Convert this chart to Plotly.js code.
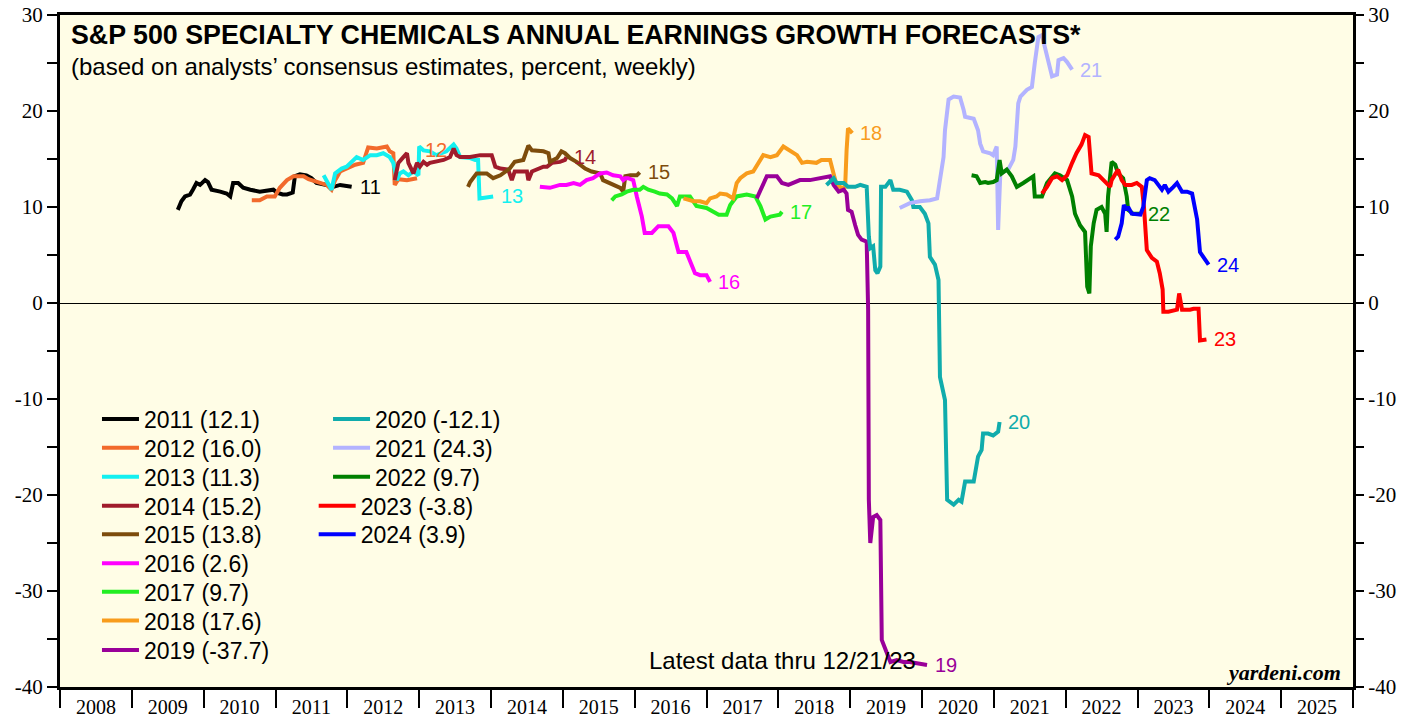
<!DOCTYPE html>
<html><head><meta charset="utf-8">
<script src="https://cdn.plot.ly/plotly-3.0.1.min.js"></script>
<style>html,body{margin:0;padding:0;background:#fff;}#chart{width:1419px;height:717px;}</style>
</head><body><div id="chart"></div>
<script>
// ---------- DATA ----------
const yearLabels = ['2008','2009','2010','2011','2012','2013','2014','2015','2016','2017','2018','2019','2020','2021','2022','2023','2024','2025'];
const yearBounds = [2008,2009,2010,2011,2012,2013,2014,2015,2016,2017,2018,2019,2020,2021,2022,2023,2024,2025,2026];
const yTickVals = [-40,-30,-20,-10,0,10,20,30];
const yTickText = ['-40','-30','-20','-10','0','10','20','30'];

const seriesYears = ['2011','2012','2013','2014','2015','2016','2017','2018','2019','2020','2021','2022','2023','2024'];
const finalValues = [12.1,16.0,11.3,15.2,13.8,2.6,9.7,17.6,-37.7,-12.1,24.3,9.7,-3.8,3.9];

const x2011 = [2009.64,2009.69,2009.74,2009.81,2009.85,2009.90,2009.95,2010.02,2010.06,2010.11,2010.23,2010.32,2010.37,2010.41,2010.48,2010.55,2010.65,2010.78,2010.97,2011.02,2011.10,2011.16,2011.24,2011.27,2011.34,2011.43,2011.50,2011.57,2011.71,2011.80,2011.90,2012.06];
const y2011 = [9.7,10.6,11.1,11.3,11.8,12.5,12.3,12.8,12.6,11.8,11.6,11.4,11.1,12.5,12.5,12.0,11.8,11.6,11.8,11.5,11.3,11.3,11.5,13.2,13.4,13.3,13.0,12.5,12.3,12.1,12.3,12.1];

const x2012 = [2010.67,2010.78,2010.88,2010.99,2011.06,2011.16,2011.25,2011.39,2011.46,2011.57,2011.71,2011.78,2011.83,2011.90,2011.99,2012.11,2012.22,2012.27,2012.29,2012.41,2012.55,2012.59,2012.64,2012.66,2012.71,2012.83,2012.97];
const y2012 = [10.7,10.7,11.1,11.1,12.0,12.8,13.2,13.2,12.9,12.6,12.3,11.8,12.8,13.7,14.0,14.4,14.6,15.6,16.2,16.1,16.3,15.8,15.6,12.3,12.9,12.8,13.0];

const x2013 = [2011.67,2011.78,2011.83,2011.92,2011.99,2012.06,2012.13,2012.22,2012.32,2012.41,2012.50,2012.59,2012.64,2012.69,2012.73,2012.78,2012.85,2012.92,2012.99,2013.00,2013.06,2013.15,2013.24,2013.38,2013.48,2013.52,2013.57,2013.71,2013.78,2013.82,2013.84,2014.03];
const y2013 = [13.3,11.8,13.5,14.0,14.2,14.7,15.2,14.9,15.4,15.4,15.6,15.2,14.6,12.8,13.5,13.7,13.3,13.7,13.3,16.3,15.9,15.8,15.4,15.8,16.5,16.1,15.2,15.1,14.9,14.9,10.9,11.1];

const x2014 = [2012.66,2012.71,2012.78,2012.83,2012.85,2012.92,2012.97,2013.01,2013.06,2013.11,2013.15,2013.24,2013.34,2013.43,2013.48,2013.52,2013.57,2013.71,2013.85,2014.01,2014.06,2014.13,2014.24,2014.29,2014.33,2014.50,2014.52,2014.57,2014.73,2014.78,2014.85,2014.96,2015.03,2015.05];
const y2014 = [12.8,14.6,15.2,15.6,14.6,13.5,14.6,14.2,14.7,14.4,14.6,14.7,14.9,15.2,16.1,15.4,15.2,15.2,15.4,15.4,14.2,14.0,13.9,12.8,13.7,13.7,12.8,13.7,14.2,14.2,14.6,14.7,14.9,15.2];

const x2015 = [2013.68,2013.71,2013.80,2013.94,2014.03,2014.13,2014.26,2014.33,2014.45,2014.50,2014.52,2014.57,2014.73,2014.80,2014.82,2014.92,2014.98,2015.03,2015.10,2015.19,2015.31,2015.40,2015.52,2015.56,2015.70,2015.80,2015.84,2015.87,2015.94,2016.03,2016.07];
const y2015 = [12.1,12.6,13.5,13.5,13.0,13.3,14.0,14.7,14.9,15.8,16.4,15.9,15.8,15.6,14.7,15.1,15.8,15.6,15.1,14.7,14.0,13.7,13.5,12.8,12.3,12.0,11.6,13.2,13.3,13.3,13.6];

const x2016 = [2014.68,2014.82,2014.96,2015.05,2015.15,2015.24,2015.33,2015.42,2015.52,2015.61,2015.70,2015.80,2015.84,2015.87,2015.91,2015.98,2016.03,2016.10,2016.14,2016.24,2016.33,2016.47,2016.54,2016.61,2016.72,2016.77,2016.84,2016.91,2017.00,2017.05];
const y2016 = [12.1,12.0,12.3,12.3,12.5,12.3,12.8,13.0,13.5,13.6,13.3,13.2,12.8,13.0,13.0,12.8,11.1,9.0,7.3,7.3,8.0,8.0,7.3,5.3,5.3,4.3,3.1,2.9,2.9,2.2];

const x2017 = [2015.68,2015.73,2015.82,2015.89,2015.98,2016.07,2016.12,2016.19,2016.28,2016.35,2016.45,2016.52,2016.59,2016.63,2016.77,2016.86,2017.00,2017.10,2017.17,2017.28,2017.33,2017.42,2017.56,2017.68,2017.75,2017.82,2017.89,2018.02,2018.05];
const y2017 = [10.7,11.1,11.3,11.6,11.8,11.8,12.1,11.8,11.6,11.4,11.3,10.9,10.1,11.1,11.1,10.1,9.9,9.5,9.2,9.2,10.2,11.1,11.3,11.1,10.1,8.7,9.0,9.2,9.5];

const x2018 = [2016.68,2016.82,2016.91,2017.00,2017.05,2017.14,2017.19,2017.28,2017.37,2017.42,2017.47,2017.56,2017.65,2017.72,2017.79,2017.89,2017.98,2018.07,2018.16,2018.26,2018.33,2018.40,2018.53,2018.60,2018.72,2018.77,2018.81,2018.88,2018.93,2018.95,2018.97,2019.03];
const y2018 = [10.9,10.6,10.6,10.4,10.9,11.1,11.4,11.3,10.9,12.5,13.0,13.5,13.7,14.6,15.4,15.2,15.4,16.3,15.9,15.4,14.6,14.7,14.6,14.9,14.9,13.2,12.3,12.0,12.1,15.9,18.2,17.7];

const x2019 = [2017.70,2017.77,2017.84,2017.98,2018.05,2018.14,2018.21,2018.30,2018.44,2018.58,2018.72,2018.77,2018.84,2018.91,2018.95,2018.97,2019.02,2019.07,2019.11,2019.16,2019.23,2019.25,2019.26,2019.28,2019.32,2019.37,2019.42,2019.44,2019.51,2019.56,2019.65,2019.74,2019.83,2019.93,2020.07];
const y2019 = [10.9,12.0,13.2,13.2,12.5,12.3,12.5,12.8,12.8,13.0,13.2,12.3,11.6,11.8,11.4,9.7,9.5,8.1,7.1,6.6,6.4,-0.7,-20.5,-25.0,-22.3,-22.1,-22.6,-35.1,-36.5,-37.4,-37.2,-37.4,-37.4,-37.5,-37.7];

const x2020 = [2018.67,2018.77,2018.81,2018.91,2018.97,2019.07,2019.14,2019.23,2019.26,2019.28,2019.32,2019.35,2019.38,2019.42,2019.43,2019.49,2019.56,2019.60,2019.69,2019.79,2019.86,2019.88,2019.97,2020.04,2020.09,2020.11,2020.18,2020.23,2020.25,2020.32,2020.35,2020.44,2020.51,2020.55,2020.60,2020.72,2020.78,2020.83,2020.85,2020.92,2020.99,2021.06,2021.08];
const y2020 = [12.3,13.0,12.5,12.5,12.1,12.1,12.3,12.1,6.9,5.7,5.9,3.4,3.1,3.8,12.1,12.1,12.8,11.8,11.8,11.6,10.7,10.0,10.0,9.3,8.3,4.8,4.0,2.4,-7.7,-10.1,-20.5,-21.0,-20.5,-20.7,-18.6,-18.6,-16.0,-15.3,-13.6,-13.6,-13.8,-13.4,-12.4];

const x2021 = [2019.69,2019.83,2019.97,2020.11,2020.21,2020.25,2020.30,2020.32,2020.37,2020.44,2020.53,2020.58,2020.60,2020.72,2020.78,2020.81,2020.85,2020.95,2020.99,2021.04,2021.06,2021.09,2021.20,2021.27,2021.30,2021.34,2021.37,2021.46,2021.53,2021.57,2021.62,2021.67,2021.74,2021.81,2021.88,2021.90,2021.97,2022.02,2022.09];
const y2021 = [9.9,10.4,10.6,10.7,10.9,12.8,15.2,18.0,21.2,21.5,21.4,20.1,19.4,19.2,18.0,16.6,15.8,15.6,15.4,16.3,7.6,13.5,13.9,14.9,16.3,20.8,21.5,22.2,22.5,25.0,27.7,27.9,25.7,23.6,23.8,25.3,25.5,25.1,24.3];

const x2022 = [2020.69,2020.76,2020.81,2020.88,2020.92,2020.99,2021.04,2021.08,2021.11,2021.18,2021.25,2021.32,2021.41,2021.55,2021.57,2021.67,2021.74,2021.85,2021.92,2022.02,2022.09,2022.13,2022.20,2022.27,2022.30,2022.33,2022.35,2022.39,2022.43,2022.50,2022.55,2022.57,2022.59,2022.64,2022.69,2022.73,2022.80,2022.85,2022.87,2022.94,2023.04];
const y2022 = [13.3,13.2,12.5,12.6,12.5,12.6,12.8,14.9,13.5,13.9,13.2,12.1,12.5,13.2,11.1,11.1,12.5,13.5,13.3,12.8,11.1,9.3,8.1,7.4,1.7,1.0,5.9,8.3,9.7,10.0,9.3,7.4,11.1,14.7,14.4,13.5,13.0,11.1,9.7,9.3,9.3];

const x2023 = [2021.67,2021.74,2021.81,2021.88,2021.95,2022.02,2022.09,2022.15,2022.22,2022.27,2022.32,2022.36,2022.46,2022.53,2022.57,2022.62,2022.64,2022.69,2022.73,2022.78,2022.83,2022.92,2022.99,2023.06,2023.09,2023.13,2023.20,2023.27,2023.31,2023.35,2023.36,2023.43,2023.55,2023.58,2023.62,2023.73,2023.78,2023.85,2023.87,2023.96];
const y2023 = [11.4,12.1,13.0,13.2,12.8,13.3,14.6,15.6,16.5,17.5,17.3,13.5,13.3,12.8,12.6,12.1,12.8,13.5,13.9,12.8,12.3,12.3,12.5,12.1,10.0,5.5,4.7,4.3,3.1,1.4,-0.9,-0.9,-0.7,1.0,-0.7,-0.7,-0.6,-0.6,-3.9,-3.8];

const x2024 = [2022.69,2022.73,2022.78,2022.81,2022.85,2022.87,2022.92,2023.04,2023.08,2023.13,2023.17,2023.24,2023.29,2023.34,2023.38,2023.43,2023.50,2023.55,2023.62,2023.69,2023.76,2023.83,2023.87,2023.92,2023.99];
const y2024 = [6.6,6.9,8.3,10.2,9.7,10.0,9.3,9.2,10.0,12.8,13.0,12.8,12.3,11.8,12.3,11.6,12.1,12.5,11.6,11.6,11.4,8.7,5.3,4.8,4.0];

// ---------- STYLE ----------
const seriesX = [x2011,x2012,x2013,x2014,x2015,x2016,x2017,x2018,x2019,x2020,x2021,x2022,x2023,x2024];
const seriesY = [y2011,y2012,y2013,y2014,y2015,y2016,y2017,y2018,y2019,y2020,y2021,y2022,y2023,y2024];
const colors = ['#000000','#f26a2c','#14f0f0','#a01c2c','#7d4c0c','#ff00ff','#22ee22','#f89c1c','#990099','#10acac','#b3b3ff','#008000','#ff0000','#0000ff'];
const labelYShift = {'2012': 28};

// legend placement (paper coords): one small legend per entry
const legendX = [0.0286,0.0286,0.0286,0.0286,0.0286,0.0286,0.0286,0.0286,0.0286,0.2073,0.2073,0.2073,0.1962,0.1962];
const legendY = [0.3988,0.3561,0.3129,0.2698,0.2272,0.1841,0.1418,0.0987,0.0551,0.3988,0.3561,0.3129,0.2698,0.2272];

const SANS = 'Liberation Sans, Arial, sans-serif';
const SERIF = 'Liberation Serif, Times New Roman, serif';

const traces = seriesX.map((xs, i) => ({
  type: 'scatter', mode: 'lines', x: xs, y: seriesY[i],
  name: seriesYears[i] + ' (' + finalValues[i].toFixed(1) + ')',
  line: {color: colors[i], width: 4},
  legend: i === 0 ? 'legend' : 'legend' + (i + 1),
  hoverinfo: 'skip'
}));
traces.push({type: 'scatter', mode: 'lines', x: [], y: [], yaxis: 'y2', showlegend: false, hoverinfo: 'skip'});

const layout = {
  width: 1419, height: 717,
  margin: {l: 60, r: 66, t: 15, b: 30},
  paper_bgcolor: '#ffffff',
  plot_bgcolor: '#fffde6',
  font: {family: SANS, color: '#000'},
  showlegend: true,
  xaxis: {
    range: [2008, 2026],
    tickmode: 'array',
    tickvals: yearBounds.slice(0, -1).map(b => b + 0.5),
    ticktext: yearLabels,
    ticks: 'outside', ticklen: 0, tickcolor: 'rgba(0,0,0,0)',
    tickfont: {family: SERIF, size: 20, color: '#000'},
    showline: true, linewidth: 3, linecolor: '#000', mirror: true,
    showgrid: false, zeroline: false, fixedrange: true,
    minor: {tickmode: 'array', tickvals: yearBounds, ticks: 'outside', ticklen: 18, tickwidth: 2, tickcolor: '#000', showgrid: false}
  },
  yaxis: {
    range: [-40, 30],
    tickmode: 'array', tickvals: yTickVals, ticktext: yTickText,
    ticks: 'outside', ticklen: 10, tickwidth: 2, tickcolor: '#000',
    tickfont: {family: SERIF, size: 21, color: '#000'},
    showline: true, linewidth: 3, linecolor: '#000', mirror: true,
    showgrid: false, zeroline: true, zerolinecolor: '#000', zerolinewidth: 1, fixedrange: true,
    minor: {dtick: 5, tick0: 0, ticks: 'outside', ticklen: 10, tickwidth: 2, tickcolor: '#000', showgrid: false}
  },
  yaxis2: {
    overlaying: 'y', side: 'right', range: [-40, 30],
    tickmode: 'array', tickvals: yTickVals, ticktext: yTickText,
    ticks: 'outside', ticklen: 10, tickwidth: 2, tickcolor: '#000',
    tickfont: {family: SERIF, size: 21, color: '#000'},
    showline: false, showgrid: false, zeroline: false, fixedrange: true,
    minor: {dtick: 5, tick0: 0, ticks: 'outside', ticklen: 10, tickwidth: 2, tickcolor: '#000', showgrid: false}
  },
  annotations: [
    {xref: 'paper', yref: 'paper', x: 0.007, y: 0.970, xanchor: 'left', yanchor: 'middle', showarrow: false,
     text: 'S&amp;P 500 SPECIALTY CHEMICALS ANNUAL EARNINGS GROWTH FORECASTS*',
     font: {family: SANS, size: 26.8, weight: 'bold', color: '#000'}},
    {xref: 'paper', yref: 'paper', x: 0.007, y: 0.924, xanchor: 'left', yanchor: 'middle', showarrow: false,
     text: '(based on analysts’ consensus estimates, percent, weekly)',
     font: {family: SANS, size: 24, color: '#000'}},
    {xref: 'paper', yref: 'paper', x: 0.559, y: 0.040, xanchor: 'center', yanchor: 'middle', showarrow: false,
     text: 'Latest data thru 12/21/23', font: {family: SANS, size: 24, color: '#000'}},
    {xref: 'paper', yref: 'paper', x: 0.992, y: 0.021, xanchor: 'right', yanchor: 'middle', showarrow: false,
     text: 'yardeni.com', font: {family: SERIF, size: 22, weight: 'bold', style: 'italic', color: '#000'}}
  ]
};

seriesX.forEach((xs, i) => {
  const n = xs.length - 1;
  layout.annotations.push({
    xref: 'x', yref: 'y', x: xs[n], y: seriesY[i][n],
    xanchor: 'left', yanchor: 'middle', xshift: 6, yshift: labelYShift[seriesYears[i]] || 0,
    showarrow: false, text: seriesYears[i].slice(2),
    font: {family: SANS, size: 20, color: colors[i]}
  });
  const key = i === 0 ? 'legend' : 'legend' + (i + 1);
  layout[key] = {
    x: legendX[i], y: legendY[i], xanchor: 'left', yanchor: 'middle',
    bgcolor: 'rgba(0,0,0,0)', borderwidth: 0, itemwidth: 37,
    font: {family: SANS, size: 23, color: '#000'}
  };
});

Plotly.newPlot('chart', traces, layout, {staticPlot: true, displayModeBar: false});
</script>
</body></html>
